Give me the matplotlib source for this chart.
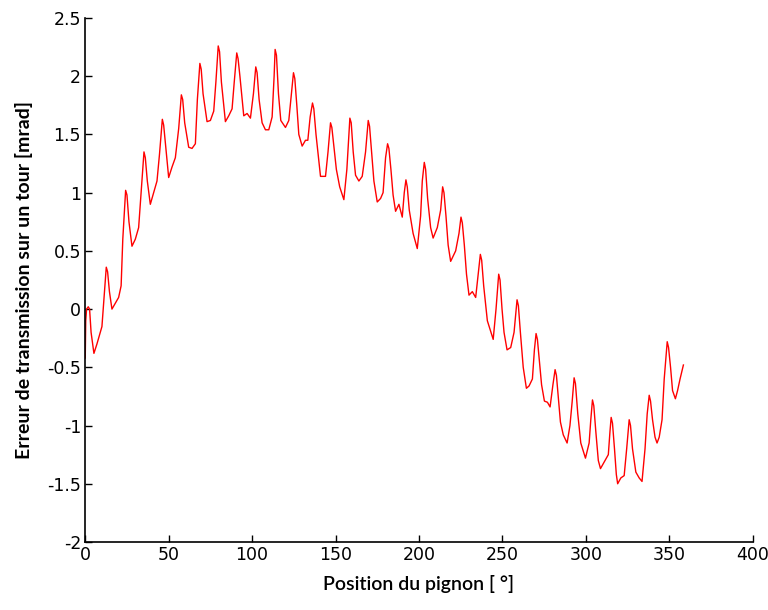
import numpy as np
import matplotlib.pyplot as plt

# Transmission error over one pinion revolution
pos_deg = [
    0, 0.3, 0.8, 1.8, 2.6, 3.5, 5.2, 7, 9, 10,
    11, 12.6, 13.4, 14.5, 16, 18, 20, 21.5, 22.5, 24.2,
    25, 26.2, 28, 30, 32, 33.5, 35.2, 36, 37.2, 39,
    41, 43, 44.5, 46.2, 47, 48.2, 50, 52, 54, 56,
    57.6, 58.4, 59.6, 62, 64, 66, 67.2, 68.7, 69.5, 70.6,
    73, 75, 77, 78.3, 79.7, 80.5, 81.6, 84, 86, 88,
    89.3, 90.8, 91.6, 92.7, 95, 97, 99, 100.8, 102.2, 103,
    104.2, 106, 108, 110, 112, 113.2, 113.8, 114.6, 115.8, 117.2,
    120, 122, 123.6, 124.8, 125.6, 126.8, 128, 130, 132, 133.4,
    134.8, 136.2, 137, 138.3, 141, 144, 145.5, 147, 147.8, 149,
    150.5, 152.5, 155, 156.8, 158.6, 159.4, 160.6, 162, 164, 166,
    168, 169.6, 170.4, 171.6, 173, 175, 177, 178.5, 180, 181.2,
    182, 183.2, 184.5, 186, 188, 190, 191.2, 192.2, 193, 194.2,
    196.5, 199, 201, 202, 203.2, 204, 205.2, 207, 208.5, 211,
    213, 214.2, 215, 216.2, 217.5, 219, 222, 224, 225.2, 226,
    227.2, 228.5, 230, 232, 234, 235.5, 236.8, 237.6, 238.8, 241,
    244.5, 246.2, 247.8, 248.6, 249.8, 251, 252.8, 255, 257, 258.8,
    259.6, 260.8, 262.5, 264.4, 266, 268, 269.2, 270.2, 271, 272.2,
    273.5, 275.2, 277, 278.6, 280.3, 281.6, 282.4, 283.5, 284.8, 286.5,
    288.8, 290.5, 291.8, 293, 293.8, 295.2, 297, 299.8, 302, 303,
    304, 304.8, 306, 307.5, 308.8, 311.5, 313.5, 314.5, 315.2, 316,
    317.2, 318.3, 319.1, 321, 323, 324.5, 326, 326.8, 328, 330,
    332, 333.7, 335.5, 336.8, 338, 338.8, 340, 341.5, 342.7, 344,
    345.7, 347, 348.8, 349.6, 350.8, 352, 353.7, 355, 356.5, 358.5,
]
err_mrad = [
    -0.42, -0.1, 0.0, 0.02, 0.0, -0.2, -0.38, -0.3, -0.2, -0.15,
    0.05, 0.36, 0.32, 0.15, 0.0, 0.05, 0.1, 0.2, 0.6, 1.02,
    0.98, 0.75, 0.54, 0.6, 0.7, 1.0, 1.35, 1.3, 1.1, 0.9,
    1.0, 1.1, 1.33, 1.63, 1.58, 1.4, 1.13, 1.22, 1.3, 1.55,
    1.84, 1.8, 1.6, 1.39, 1.38, 1.42, 1.8, 2.11, 2.06, 1.85,
    1.61, 1.62, 1.7, 1.95, 2.26, 2.21, 1.95, 1.61, 1.66, 1.72,
    1.95, 2.2, 2.15, 2.0, 1.66, 1.68, 1.64, 1.85, 2.08, 2.03,
    1.8, 1.6, 1.54, 1.54, 1.65, 2.0, 2.23, 2.18, 1.85, 1.62,
    1.56, 1.62, 1.85, 2.03, 1.98, 1.75, 1.5, 1.40, 1.45, 1.45,
    1.65, 1.77, 1.72, 1.5, 1.14, 1.14, 1.35, 1.60, 1.56, 1.4,
    1.2, 1.05, 0.94, 1.2, 1.64, 1.6, 1.35, 1.15, 1.10, 1.14,
    1.35, 1.62, 1.57, 1.35, 1.1, 0.92, 0.95, 1.0, 1.3, 1.42,
    1.38, 1.2, 0.98, 0.84, 0.9, 0.79, 1.0, 1.11, 1.05, 0.85,
    0.65, 0.52, 0.8, 1.1, 1.26, 1.2, 0.95, 0.7, 0.61, 0.7,
    0.85, 1.05, 1.0, 0.8, 0.55, 0.41, 0.5, 0.65, 0.79, 0.74,
    0.55, 0.3, 0.12, 0.15, 0.1, 0.3, 0.47, 0.42, 0.2, -0.1,
    -0.26, 0.0, 0.30, 0.25, 0.0, -0.2, -0.35, -0.33, -0.2, 0.08,
    0.03, -0.2, -0.5, -0.68, -0.66, -0.6, -0.35, -0.21, -0.26, -0.45,
    -0.65, -0.79, -0.8, -0.84, -0.65, -0.52, -0.57, -0.75, -0.97, -1.08,
    -1.15, -1.0, -0.8, -0.59, -0.64, -0.9, -1.15, -1.28, -1.15, -0.95,
    -0.78, -0.83, -1.05, -1.3, -1.37, -1.3, -1.25, -1.05, -0.93, -0.98,
    -1.2, -1.42, -1.50, -1.45, -1.43, -1.2, -0.95, -1.0, -1.2, -1.4,
    -1.45, -1.48, -1.2, -0.9, -0.74, -0.79, -0.95, -1.1, -1.15, -1.1,
    -0.95, -0.6, -0.28, -0.33, -0.5, -0.7, -0.77, -0.7, -0.6, -0.48,
]

x_ticks = [0, 50, 100, 150, 200, 250, 300, 350, 400]
y_ticks = [-2, -1.5, -1, -0.5, 0, 0.5, 1, 1.5, 2, 2.5]
y_tick_labels = ['-2', '-1.5', '-1', '-0.5', '0', '0.5', '1', '1.5', '2', '2.5']

fig = plt.figure(figsize=(7.68, 6.10), dpi=100)
ax = fig.add_axes([0.111, 0.1115, 0.869, 0.859])

ax.plot(pos_deg, err_mrad, color='red', linewidth=1.0)

ax.set_xlim(0, 400)
ax.set_ylim(-2, 2.5)
ax.set_xticks(x_ticks)
ax.set_yticks(y_ticks)
ax.set_yticklabels(y_tick_labels)

tick_font = ['Liberation Sans Narrow', 'DejaVu Sans']
for lab in ax.get_xticklabels() + ax.get_yticklabels():
    lab.set_family(tick_font)
    lab.set_fontsize(12.5)

ax.tick_params(direction='in', length=5, width=1, pad=3)
ax.spines['top'].set_visible(False)
ax.spines['right'].set_visible(False)
ax.spines['left'].set_linewidth(1.2)
ax.spines['bottom'].set_linewidth(1.2)

ax.set_xlabel('Position du pignon [ °]', family=['Lato', 'DejaVu Sans'],
              fontsize=14, fontweight='semibold', labelpad=8)
ax.set_ylabel('Erreur de transmission sur un tour [mrad]',
              family=['Lato', 'DejaVu Sans'], fontsize=14,
              fontweight='bold', labelpad=10)

fig.savefig('out.png', dpi=100)
